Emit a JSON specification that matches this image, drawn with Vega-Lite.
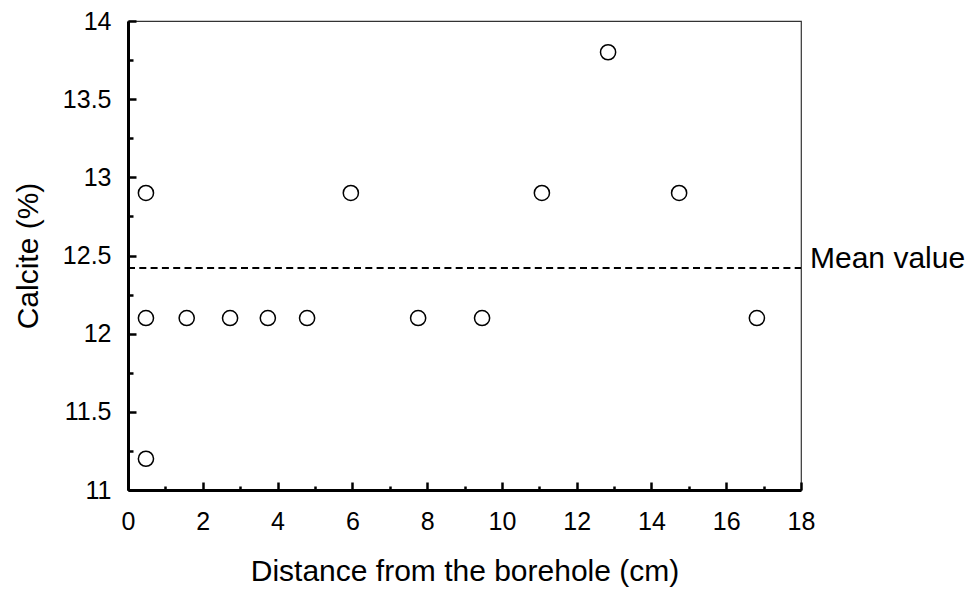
{
  "$schema": "https://vega.github.io/schema/vega-lite/v6.json",
  "width": 673,
  "height": 469,
  "autosize": {"type": "none"},
  "padding": {"left": 128, "top": 21, "right": 173, "bottom": 108},
  "background": "white",
  "config": {
    "view": {"stroke": "#333333", "strokeWidth": 1.2},
    "font": "Liberation Sans",
    "axis": {
      "grid": false,
      "domainColor": "black",
      "domainWidth": 3,
      "tickColor": "black",
      "tickWidth": 2.5,
      "labelFlush": false,
      "labelFont": "Liberation Sans",
      "labelFontSize": 25,
      "labelColor": "black",
      "titleFont": "Liberation Sans",
      "titleFontSize": 30,
      "titleFontWeight": "normal",
      "titleColor": "black"
    }
  },
  "resolve": {"axis": {"x": "independent", "y": "independent"}},
  "layer": [
    {
      "data": {"values": [{"start": 0, "end": 18, "mean": 12.42, "label": "Mean value"}]},
      "mark": {"type": "rule", "strokeDash": [7, 4.3], "strokeWidth": 2, "color": "black"},
      "encoding": {
        "x": {"field": "start", "type": "quantitative", "scale": {"domain": [0, 18], "nice": false},
          "axis": {"orient": "bottom", "values": [1, 3, 5, 7, 9, 11, 13, 15, 17], "tickSize": -4, "labels": false, "domain": false, "title": null}},
        "x2": {"field": "end"},
        "y": {"field": "mean", "type": "quantitative", "scale": {"domain": [11, 14], "nice": false, "zero": false},
          "axis": {"orient": "left", "values": [11.25, 11.75, 12.25, 12.75, 13.25, 13.75], "tickSize": -5, "labels": false, "domain": false, "title": null}}
      }
    },
    {
      "data": {
        "values": [
          {"distance": 0.48, "calcite": 12.9},
          {"distance": 0.48, "calcite": 12.1},
          {"distance": 0.48, "calcite": 11.2},
          {"distance": 1.57, "calcite": 12.1},
          {"distance": 2.73, "calcite": 12.1},
          {"distance": 3.74, "calcite": 12.1},
          {"distance": 4.79, "calcite": 12.1},
          {"distance": 5.96, "calcite": 12.9},
          {"distance": 7.76, "calcite": 12.1},
          {"distance": 9.47, "calcite": 12.1},
          {"distance": 11.07, "calcite": 12.9},
          {"distance": 12.84, "calcite": 13.8},
          {"distance": 14.74, "calcite": 12.9},
          {"distance": 16.82, "calcite": 12.1}
        ]
      },
      "mark": {"type": "point", "shape": "circle", "filled": false, "stroke": "black", "strokeWidth": 1.5, "size": 230, "opacity": 1},
      "encoding": {
        "x": {"field": "distance", "type": "quantitative", "scale": {"domain": [0, 18], "nice": false},
          "axis": {"orient": "bottom", "values": [0, 2, 4, 6, 8, 10, 12, 14, 16, 18], "tickSize": -8, "labelPadding": 27, "format": "~g", "domainWidth": 3, "domainColor": "black", "title": "Distance from the borehole (cm)", "titlePadding": 22}},
        "y": {"field": "calcite", "type": "quantitative", "scale": {"domain": [11, 14], "nice": false, "zero": false},
          "axis": {"orient": "left", "values": [11, 11.5, 12, 12.5, 13, 13.5, 14], "tickSize": -8, "labelPadding": 25, "format": "~g", "domainWidth": 3, "domainColor": "black", "title": "Calcite (%)", "titlePadding": 19}}
      }
    },
    {
      "data": {"values": [{"start": 0, "end": 18, "mean": 12.42, "label": "Mean value"}]},
      "mark": {"type": "text", "align": "left", "baseline": "alphabetic", "dx": 9, "fontSize": 30, "font": "Liberation Sans", "color": "black"},
      "encoding": {
        "x": {"field": "end", "type": "quantitative", "scale": {"domain": [0, 18], "nice": false}, "axis": null},
        "y": {"field": "mean", "type": "quantitative", "scale": {"domain": [11, 14], "nice": false, "zero": false}, "axis": null},
        "text": {"field": "label"}
      }
    }
  ]
}
